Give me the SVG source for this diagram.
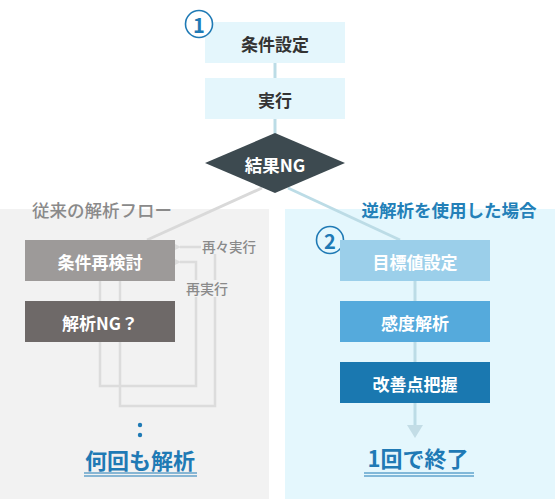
<svg xmlns="http://www.w3.org/2000/svg" width="555" height="499" viewBox="0 0 555 499">
<defs>
<style>
.t{font-family:"Noto Sans CJK JP","Noto Sans",sans-serif;font-weight:700;text-anchor:middle;dominant-baseline:central}
.w{fill:#ffffff;font-size:17px}
.dk{fill:#333333;font-size:17px}
.lt{fill:#e4f6fc}
.gl{stroke:#dcdcdc;stroke-width:2.5;fill:none}
.bl{stroke:#bcdce6;stroke-width:3;fill:none}
.num{stroke:#1f7ab5;stroke-width:1.6}
.numt{fill:#1f7ab5;font-size:20px}
</style>
<marker id="ga" markerWidth="9" markerHeight="9" refX="1" refY="4.5" orient="auto" markerUnits="userSpaceOnUse" viewBox="0 0 9 9">
<path d="M9,0 L0,4.5 L9,9 Z" fill="#dcdcdc"/>
</marker>
</defs>
<rect width="555" height="499" fill="#ffffff"/>
<rect x="0" y="209" width="269" height="290" fill="#f2f2f2"/>
<rect x="285" y="209" width="270" height="290" fill="#e4f7fd"/>
<g id="connectors">
<line x1="275" y1="63" x2="275" y2="78" class="bl"/>
<line x1="275" y1="119" x2="275" y2="134" class="bl"/>
<line x1="262" y1="188" x2="147" y2="240" stroke="#d9d9d9" stroke-width="3"/>
<line x1="288" y1="188" x2="400" y2="240" stroke="#bcdce6" stroke-width="3"/>
<line x1="415" y1="281" x2="415" y2="301" class="bl"/>
<line x1="415" y1="342" x2="415" y2="362" class="bl"/>
<line x1="415" y1="403" x2="415" y2="428" class="bl"/>
<path d="M407,425 L423,425 L415,438 Z" fill="#c3dde6"/>
<line x1="100" y1="281" x2="100" y2="301" class="gl"/>
<line x1="120" y1="281" x2="120" y2="301" class="gl"/>
<path d="M100,342 V386 H196 V262 H180" class="gl" marker-end="url(#ga)"/>
<path d="M120,342 V406 H215 V247 H180" class="gl" marker-end="url(#ga)"/>
</g>
<rect x="201" y="237" width="58" height="17" fill="#f2f2f2"/>
<rect x="183" y="280" width="48" height="17" fill="#f2f2f2"/>
<g id="label-saisaijikko"><text x="229" y="246" class="t" style="font-size:13.5px;fill:#8a8a8a;font-weight:500">再々実行</text></g>
<g id="label-saijikko"><text x="207" y="288" class="t" style="font-size:14px;fill:#8a8a8a;font-weight:500">再実行</text></g>
<g id="title-left"><text x="102" y="209" class="t" style="font-size:17.5px;fill:#8a8a8a;font-weight:500">従来の解析フロー</text></g>
<g id="title-right"><text x="449" y="209" class="t" style="font-size:17.5px;fill:#2380b8">逆解析を使用した場合</text></g>
<g id="n1">
<rect x="205" y="22" width="140" height="41" class="lt"/>
<text x="275" y="43" class="t dk">条件設定</text>
</g>
<g id="n2">
<rect x="205" y="78" width="140" height="41" class="lt"/>
<text x="275" y="99" class="t dk">実行</text>
</g>
<g id="n3">
<path d="M275,133 L345,163 L275,193 L205,163 Z" fill="#3d4a50"/>
<text x="275" y="164" class="t w" style="font-size:17.5px">結果NG</text>
</g>
<g id="c1">
<circle cx="199" cy="24" r="13.5" fill="#ffffff" class="num"/>
<text x="199" y="24" class="t numt">1</text>
</g>
<g id="c2">
<circle cx="330" cy="240" r="13.5" fill="#e4f7fd" class="num"/>
<text x="330" y="240" class="t numt">2</text>
</g>
<g id="l1">
<rect x="25" y="240" width="150" height="41" fill="#9d9a99"/>
<text x="100" y="261" class="t w">条件再検討</text>
</g>
<g id="l2">
<rect x="25" y="301" width="150" height="41" fill="#6e6968"/>
<text x="100" y="322" class="t w">解析NG？</text>
</g>
<g id="r1">
<rect x="340" y="240" width="150" height="41" fill="#9bcfea"/>
<text x="415" y="261" class="t w">目標値設定</text>
</g>
<g id="r2">
<rect x="340" y="301" width="150" height="41" fill="#55aadc"/>
<text x="415" y="322" class="t w">感度解析</text>
</g>
<g id="r3">
<rect x="340" y="362" width="150" height="41" fill="#1a78b0"/>
<text x="415" y="383" class="t w">改善点把握</text>
</g>
<g id="dots">
<circle cx="140" cy="425" r="2.2" fill="#1f7ab5"/>
<circle cx="140" cy="435" r="2.2" fill="#1f7ab5"/>
</g>
<g id="result-left">
<text x="140" y="459" class="t" style="font-size:22px;fill:#1f7ab5">何回も解析</text>
<line x1="84" y1="473" x2="197" y2="473" stroke="#1f7ab5" stroke-width="1"/>
<line x1="84" y1="476" x2="197" y2="476" stroke="#1f7ab5" stroke-width="1"/>
</g>
<g id="result-right">
<text x="418" y="457" class="t" style="font-size:22px;fill:#1f7ab5">1回で終了</text>
<line x1="364" y1="473" x2="474" y2="473" stroke="#1f7ab5" stroke-width="1"/>
<line x1="364" y1="476" x2="474" y2="476" stroke="#1f7ab5" stroke-width="1"/>
</g>
</svg>
